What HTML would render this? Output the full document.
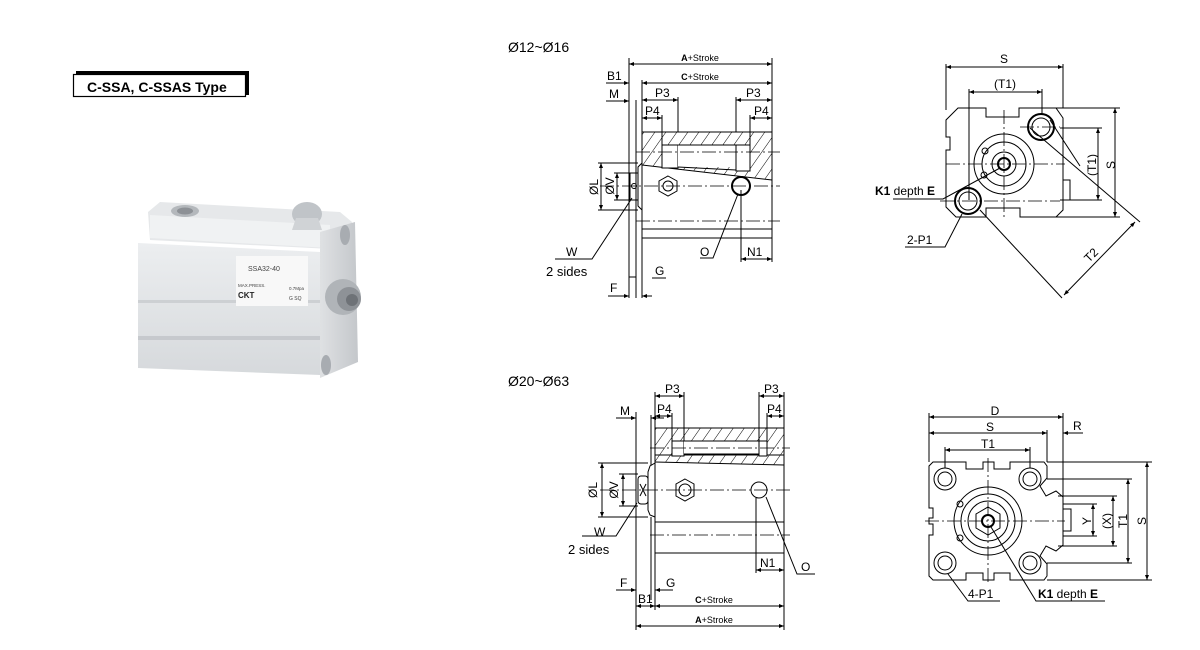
<!DOCTYPE html>
<html><head><meta charset="utf-8"><style>
html,body{margin:0;padding:0;background:#fff;}
svg{display:block;font-family:"Liberation Sans",Arial,sans-serif;}
</style></head><body>
<svg width="1200" height="650" viewBox="0 0 1200 650" xmlns="http://www.w3.org/2000/svg">
<defs>
<marker id="a" viewBox="0 0 10 10" refX="10" refY="5" markerWidth="7" markerHeight="5" orient="auto-start-reverse"><path d="M0,1 L10,5 L0,9 z" fill="#000"/></marker>
<pattern id="h" width="9" height="9" patternUnits="userSpaceOnUse" patternTransform="rotate(35)"><line x1="0" y1="0" x2="0" y2="9" stroke="#000" stroke-width="1"/></pattern>
<linearGradient id="g1" x1="0" y1="0" x2="0" y2="1"><stop offset="0" stop-color="#eceef0"/><stop offset="1" stop-color="#d6d9dc"/></linearGradient>
<linearGradient id="g2" x1="0" y1="0" x2="1" y2="0"><stop offset="0" stop-color="#dfe1e3"/><stop offset="1" stop-color="#c4c7cb"/></linearGradient>
</defs>
<rect width="1200" height="650" fill="#fff"/>

<!-- Title -->
<rect x="76" y="71" width="173" height="6" fill="#000"/>
<rect x="243" y="71" width="6" height="24" fill="#000"/>
<rect x="73.5" y="74.5" width="172" height="22" fill="#fff" stroke="#000" stroke-width="1.2"/>
<text x="87" y="92" font-size="14" font-weight="bold">C-SSA, C-SSAS Type</text>

<!-- Photo -->
<g>
<polygon points="160,202 340,212 352,222 352,250 150,240 148,212" fill="#e6e8ea"/>
<polygon points="150,215 330,225 330,248 150,238" fill="#f0f2f3"/>
<ellipse cx="185" cy="211" rx="14" ry="6" fill="#b4b8bc"/>
<ellipse cx="185" cy="211" rx="8" ry="3.5" fill="#8d9196"/>
<ellipse cx="307" cy="214" rx="15" ry="12" fill="#c0c4c8"/>
<polygon points="296,218 318,218 322,230 292,230" fill="#d0d3d6"/>
<polygon points="138,243 320,252 320,375 138,368" fill="url(#g1)"/>
<rect x="138" y="300" width="182" height="3" fill="#cdd0d3"/>
<rect x="138" y="336" width="182" height="4" fill="#c6c9cd"/>
<polygon points="320,232 355,222 358,362 320,378" fill="url(#g2)"/>
<circle cx="343" cy="297" r="18" fill="#b0b4b8"/>
<circle cx="349" cy="299" r="12" fill="#8e9297"/>
<circle cx="352" cy="300" r="6" fill="#6e7277"/>
<ellipse cx="345" cy="235" rx="5" ry="10" fill="#a8acb1"/>
<ellipse cx="326" cy="365" rx="5" ry="10" fill="#a8acb1"/>
<rect x="236" y="256" width="72" height="50" fill="#f8f8f8"/>
<text x="248" y="271" font-size="7" fill="#444">SSA32-40</text>
<text x="238" y="287" font-size="4.5" fill="#444">MAX.PRESS.</text>
<text x="289" y="290" font-size="4.5" fill="#444">0.7Mpa</text>
<text x="238" y="298" font-size="8" font-weight="bold" fill="#222">CKT</text>
<text x="289" y="300" font-size="5" fill="#444">G  SQ</text>
</g>

<!-- ===== Top-left side view ===== -->
<text x="508" y="52" font-size="14">Ø12~Ø16</text>
<g stroke="#000" stroke-width="1" fill="none">
<rect x="642" y="132" width="130" height="106"/>
<line x1="642" y1="229" x2="772" y2="229"/>
<polygon points="642,132 772,132 772,180 642,165" fill="url(#h)" stroke="none"/>
<line x1="642" y1="165" x2="772" y2="180"/>
<rect x="662" y="145" width="16" height="23" fill="#fff"/>
<rect x="678" y="145" width="58" height="22" fill="#fff" stroke="none"/>
<line x1="678" y1="145" x2="736" y2="145"/><line x1="678" y1="167" x2="736" y2="170"/>
<rect x="736" y="145" width="14" height="26" fill="#fff"/>
<line x1="662" y1="145" x2="662" y2="132"/><line x1="750" y1="145" x2="750" y2="132"/>
<g stroke-dasharray="14,3,2,3" stroke-width="0.8"><line x1="636" y1="152" x2="780" y2="152"/><line x1="600" y1="186" x2="780" y2="186"/><line x1="636" y1="221" x2="780" y2="221"/></g>
<polygon points="668,176 677,181 677,191 668,196 659,191 659,181" />
<circle cx="668" cy="186" r="5"/>
<circle cx="741" cy="186" r="9" stroke-width="2"/>
<path d="M642,163 L638,167 L638,206 L642,210"/>
<rect x="630" y="173" width="8" height="27"/>
<circle cx="634" cy="186" r="2.5"/>
<line x1="629" y1="58" x2="629" y2="298"/>
<line x1="636" y1="100" x2="636" y2="298"/>
<line x1="642" y1="80" x2="642" y2="298"/>
<line x1="772" y1="58" x2="772" y2="132"/>
<line x1="678" y1="97" x2="678" y2="132"/>
<line x1="662" y1="115" x2="662" y2="132"/>
<line x1="736" y1="97" x2="736" y2="132"/>
<line x1="750" y1="115" x2="750" y2="132"/>
<line x1="741" y1="190" x2="741" y2="262"/>
<line x1="772" y1="238" x2="772" y2="262"/>
<line x1="598" y1="163" x2="638" y2="163"/><line x1="598" y1="210" x2="638" y2="210"/>
<line x1="614" y1="173" x2="630" y2="173"/><line x1="614" y1="200" x2="630" y2="200"/>
<line x1="629" y1="64" x2="772" y2="64" marker-start="url(#a)" marker-end="url(#a)"/>
<line x1="642" y1="83" x2="772" y2="83" marker-start="url(#a)" marker-end="url(#a)"/>
<line x1="606" y1="83" x2="629" y2="83" marker-end="url(#a)"/>
<line x1="606" y1="101" x2="629" y2="101" marker-end="url(#a)"/>
<line x1="642" y1="100" x2="678" y2="100" marker-start="url(#a)" marker-end="url(#a)"/>
<line x1="642" y1="118" x2="662" y2="118" marker-start="url(#a)" marker-end="url(#a)"/>
<line x1="736" y1="100" x2="772" y2="100" marker-start="url(#a)" marker-end="url(#a)"/>
<line x1="750" y1="118" x2="772" y2="118" marker-start="url(#a)" marker-end="url(#a)"/>
<line x1="601" y1="163" x2="601" y2="210" marker-start="url(#a)" marker-end="url(#a)"/>
<line x1="617" y1="173" x2="617" y2="200" marker-start="url(#a)" marker-end="url(#a)"/>
<line x1="741" y1="259" x2="772" y2="259" marker-start="url(#a)" marker-end="url(#a)"/>
<line x1="608" y1="296" x2="629" y2="296" marker-end="url(#a)"/>
<line x1="629" y1="277" x2="636" y2="277"/>
<line x1="642" y1="296" x2="652" y2="296" marker-start="url(#a)"/>
<line x1="652" y1="278" x2="666" y2="278"/>
<polyline points="555,259 592,259 632,198"/>
<polyline points="700,258 713,258 738,194"/>
</g>
<g font-size="12">
<text x="700" y="61" text-anchor="middle" font-size="9"><tspan font-weight="bold">A</tspan>+Stroke</text>
<text x="700" y="80" text-anchor="middle" font-size="9"><tspan font-weight="bold">C</tspan>+Stroke</text>
<text x="607" y="80">B1</text>
<text x="609" y="98">M</text>
<text x="655" y="97">P3</text>
<text x="645" y="115">P4</text>
<text x="746" y="97">P3</text>
<text x="754" y="115">P4</text>
<text x="598" y="187" transform="rotate(-90 598 187)" text-anchor="middle">ØL</text>
<text x="614" y="186" transform="rotate(-90 614 186)" text-anchor="middle">ØV</text>
<text x="566" y="256">W</text>
<text x="546" y="276" font-size="13">2 sides</text>
<text x="700" y="256">O</text>
<text x="747" y="256">N1</text>
<text x="655" y="275">G</text>
<text x="610" y="292">F</text>
</g>

<!-- ===== Top-right end view ===== -->
<g stroke="#000" stroke-width="1" fill="none">
<path d="M958,108 L986,108 L986,117 L1019,117 L1019,108 L1056,108 L1063,118 L1063,210 L1056,217 L1020,217 L1020,208 L986,208 L986,217 L956,217 L946,207 L946,150 L950,150 L950,137 L946,137 L946,120 Z"/>
<rect x="1063" y="180" width="7" height="20"/>
<circle cx="1041" cy="127" r="13" stroke-width="2"/><circle cx="1041" cy="127" r="9"/>
<circle cx="968" cy="201" r="13" stroke-width="2"/><circle cx="968" cy="201" r="9"/>
<circle cx="1004" cy="164" r="30"/><circle cx="1004" cy="164" r="22"/>
<circle cx="1004" cy="164" r="12"/><circle cx="1004" cy="164" r="6" stroke-width="2"/>
<circle cx="985" cy="151" r="3"/><circle cx="984" cy="175" r="3"/>
<g stroke-dasharray="14,3,2,3" stroke-width="0.8"><line x1="946" y1="164" x2="1065" y2="164"/><line x1="1004" y1="110" x2="1004" y2="218"/><line x1="940" y1="201" x2="1060" y2="201"/><line x1="1020" y1="127" x2="1060" y2="127"/></g>
<line x1="946" y1="64" x2="946" y2="110"/><line x1="1063" y1="64" x2="1063" y2="108"/>
<line x1="969" y1="89" x2="969" y2="200"/><line x1="1042" y1="89" x2="1042" y2="114"/>
<line x1="1053" y1="108" x2="1120" y2="108"/><line x1="1056" y1="217" x2="1120" y2="217"/>
<line x1="1060" y1="128" x2="1102" y2="128"/><line x1="1060" y1="200" x2="1102" y2="200"/>
<line x1="946" y1="67" x2="1063" y2="67" marker-start="url(#a)" marker-end="url(#a)"/>
<line x1="969" y1="92" x2="1042" y2="92" marker-start="url(#a)" marker-end="url(#a)"/>
<line x1="1115" y1="108" x2="1115" y2="217" marker-start="url(#a)" marker-end="url(#a)"/>
<line x1="1098" y1="128" x2="1098" y2="200" marker-start="url(#a)" marker-end="url(#a)"/>
<line x1="1050" y1="120" x2="1080" y2="166"/>
<line x1="1030" y1="128" x2="1140" y2="222"/>
<line x1="980" y1="210" x2="1062" y2="298"/>
<line x1="1135" y1="222" x2="1064" y2="295" marker-start="url(#a)" marker-end="url(#a)"/>
<polyline points="893,199 943,199 1000,168"/>
<polyline points="905,247 945,247 962,214"/>
</g>
<g font-size="12">
<text x="1004" y="63" text-anchor="middle">S</text>
<text x="1005" y="88" text-anchor="middle">(T1)</text>
<text x="1115" y="165" transform="rotate(-90 1115 165)" text-anchor="middle">S</text>
<text x="1096" y="165" transform="rotate(-90 1096 165)" text-anchor="middle">(T1)</text>
<text x="1094" y="258" transform="rotate(-45 1094 258)" text-anchor="middle">T2</text>
<text x="875" y="195"><tspan font-weight="bold">K1</tspan> depth <tspan font-weight="bold">E</tspan></text>
<text x="907" y="244">2-P1</text>
</g>

<!-- ===== Bottom-left side view ===== -->
<text x="508" y="386" font-size="14">Ø20~Ø63</text>
<g stroke="#000" stroke-width="1" fill="none">
<rect x="655" y="428" width="129" height="125"/>
<line x1="655" y1="455" x2="784" y2="455"/>
<line x1="655" y1="522" x2="784" y2="522"/>
<polygon points="655,428 784,428 784,465 655,462" fill="url(#h)" stroke="none"/>
<rect x="672" y="441" width="12" height="15" fill="#fff"/>
<rect x="684" y="441" width="75" height="13" fill="#fff" stroke="none"/>
<line x1="684" y1="441" x2="759" y2="441"/><line x1="684" y1="454" x2="759" y2="454"/>
<rect x="759" y="441" width="8" height="15" fill="#fff"/>
<line x1="655" y1="462" x2="784" y2="465"/>
<g stroke-dasharray="14,3,2,3" stroke-width="0.8"><line x1="650" y1="448" x2="790" y2="448"/><line x1="600" y1="490" x2="790" y2="490"/><line x1="650" y1="535" x2="790" y2="535"/></g>
<polygon points="685,479 694,484 694,496 685,501 676,496 676,484"/>
<circle cx="685" cy="490" r="6"/>
<circle cx="759" cy="490" r="8"/>
<path d="M655,463 L650,466 L648,472 L648,510 L650,515 L655,517"/>
<rect x="638" y="476" width="10" height="28" rx="3"/>
<line x1="640" y1="484" x2="646" y2="496"/><line x1="646" y1="484" x2="640" y2="496"/>
<line x1="636" y1="412" x2="636" y2="630"/>
<line x1="655" y1="392" x2="655" y2="428"/><line x1="655" y1="553" x2="655" y2="610"/>
<line x1="651" y1="415" x2="651" y2="465"/><line x1="651" y1="517" x2="651" y2="600"/>
<line x1="684" y1="392" x2="684" y2="441"/><line x1="672" y1="413" x2="672" y2="441"/>
<line x1="759" y1="392" x2="759" y2="441"/><line x1="767" y1="413" x2="767" y2="441"/>
<line x1="784" y1="392" x2="784" y2="428"/><line x1="784" y1="553" x2="784" y2="630"/>
<line x1="756" y1="498" x2="756" y2="573"/>
<line x1="598" y1="463" x2="648" y2="463"/><line x1="598" y1="517" x2="648" y2="517"/>
<line x1="619" y1="474" x2="638" y2="474"/><line x1="619" y1="506" x2="638" y2="506"/>
<line x1="655" y1="396" x2="684" y2="396" marker-start="url(#a)" marker-end="url(#a)"/>
<line x1="655" y1="416" x2="672" y2="416" marker-start="url(#a)" marker-end="url(#a)"/>
<line x1="759" y1="396" x2="784" y2="396" marker-start="url(#a)" marker-end="url(#a)"/>
<line x1="767" y1="416" x2="784" y2="416" marker-start="url(#a)" marker-end="url(#a)"/>
<line x1="616" y1="418" x2="636" y2="418" marker-end="url(#a)"/>
<line x1="651" y1="418" x2="664" y2="418" marker-start="url(#a)"/>
<line x1="602" y1="463" x2="602" y2="517" marker-start="url(#a)" marker-end="url(#a)"/>
<line x1="623" y1="474" x2="623" y2="506" marker-start="url(#a)" marker-end="url(#a)"/>
<line x1="756" y1="570" x2="784" y2="570" marker-start="url(#a)" marker-end="url(#a)"/>
<line x1="616" y1="590" x2="636" y2="590" marker-end="url(#a)"/>
<line x1="655" y1="590" x2="673" y2="590" marker-start="url(#a)"/>
<line x1="636" y1="606" x2="655" y2="606" marker-start="url(#a)" marker-end="url(#a)"/>
<line x1="655" y1="606" x2="784" y2="606" marker-start="url(#a)" marker-end="url(#a)"/>
<line x1="636" y1="626" x2="784" y2="626" marker-start="url(#a)" marker-end="url(#a)"/>
<polyline points="582,536 616,536 637,503"/>
<polyline points="815,574 797,574 766,497"/>
</g>
<g font-size="12">
<text x="665" y="393">P3</text><text x="657" y="413">P4</text>
<text x="764" y="393">P3</text><text x="767" y="413">P4</text>
<text x="620" y="415">M</text>
<text x="597" y="490" transform="rotate(-90 597 490)" text-anchor="middle">ØL</text>
<text x="618" y="490" transform="rotate(-90 618 490)" text-anchor="middle">ØV</text>
<text x="594" y="536">W</text>
<text x="568" y="554" font-size="13">2 sides</text>
<text x="760" y="567">N1</text>
<text x="801" y="571">O</text>
<text x="620" y="587">F</text>
<text x="666" y="587">G</text>
<text x="638" y="603">B1</text>
<text x="714" y="603" text-anchor="middle" font-size="9"><tspan font-weight="bold">C</tspan>+Stroke</text>
<text x="714" y="623" text-anchor="middle" font-size="9"><tspan font-weight="bold">A</tspan>+Stroke</text>
</g>

<!-- ===== Bottom-right end view ===== -->
<g stroke="#000" stroke-width="1" fill="none">
<path d="M933,462 L966,462 L966,469 L983,469 L983,462 L994,462 L994,469 L1010,469 L1010,462 L1044,462 L1047,466 L1047,478 L1040,486 L1046,496 L1056,491 L1063,497 L1063,545 L1056,551 L1046,546 L1040,556 L1047,564 L1047,576 L1044,580 L1010,580 L1010,573 L994,573 L994,580 L983,580 L983,573 L966,573 L966,580 L933,580 L929,576 L929,535 L933,535 L933,524 L929,524 L929,518 L933,518 L933,508 L929,508 L929,466 Z"/>
<rect x="1063" y="509" width="8" height="22"/>
<circle cx="945" cy="479" r="11"/><circle cx="945" cy="479" r="7"/>
<circle cx="1030" cy="479" r="11"/><circle cx="1030" cy="479" r="7"/>
<circle cx="945" cy="563" r="11"/><circle cx="945" cy="563" r="7"/>
<circle cx="1030" cy="563" r="11"/><circle cx="1030" cy="563" r="7"/>
<circle cx="988" cy="521" r="34"/><circle cx="988" cy="521" r="27"/><circle cx="988" cy="521" r="20"/>
<polygon points="988,507 1000,514 1000,528 988,535 976,528 976,514"/>
<circle cx="988" cy="521" r="6" stroke-width="2"/>
<circle cx="960" cy="504" r="3"/><circle cx="960" cy="538" r="3"/>
<g stroke-dasharray="14,3,2,3" stroke-width="0.8"><line x1="925" y1="521" x2="1065" y2="521"/><line x1="988" y1="458" x2="988" y2="585"/></g>
<line x1="929" y1="413" x2="929" y2="462"/><line x1="1063" y1="413" x2="1063" y2="497"/>
<line x1="1047" y1="430" x2="1047" y2="462"/>
<line x1="945" y1="447" x2="945" y2="468"/><line x1="1030" y1="447" x2="1030" y2="468"/>
<line x1="1047" y1="462" x2="1152" y2="462"/><line x1="1047" y1="580" x2="1152" y2="580"/>
<line x1="1047" y1="479" x2="1132" y2="479"/><line x1="1047" y1="563" x2="1132" y2="563"/>
<line x1="1058" y1="496" x2="1117" y2="496"/><line x1="1058" y1="546" x2="1117" y2="546"/>
<line x1="1063" y1="504" x2="1097" y2="504"/><line x1="1063" y1="536" x2="1097" y2="536"/>
<line x1="929" y1="417" x2="1063" y2="417" marker-start="url(#a)" marker-end="url(#a)"/>
<line x1="929" y1="433" x2="1047" y2="433" marker-start="url(#a)" marker-end="url(#a)"/>
<line x1="1083" y1="433" x2="1063" y2="433" marker-end="url(#a)"/>
<line x1="945" y1="450" x2="1030" y2="450" marker-start="url(#a)" marker-end="url(#a)"/>
<line x1="1147" y1="462" x2="1147" y2="580" marker-start="url(#a)" marker-end="url(#a)"/>
<line x1="1128" y1="479" x2="1128" y2="563" marker-start="url(#a)" marker-end="url(#a)"/>
<line x1="1113" y1="496" x2="1113" y2="546" marker-start="url(#a)" marker-end="url(#a)"/>
<line x1="1093" y1="504" x2="1093" y2="536" marker-start="url(#a)" marker-end="url(#a)"/>
<polyline points="1000,601 968,601 948,574"/>
<polyline points="1105,601 1036,601 991,527"/>
</g>
<g font-size="12">
<text x="995" y="415" text-anchor="middle">D</text>
<text x="990" y="431" text-anchor="middle">S</text>
<text x="988" y="448" text-anchor="middle">T1</text>
<text x="1073" y="430">R</text>
<text x="1146" y="521" transform="rotate(-90 1146 521)" text-anchor="middle">S</text>
<text x="1127" y="521" transform="rotate(-90 1127 521)" text-anchor="middle">T1</text>
<text x="1111" y="521" transform="rotate(-90 1111 521)" text-anchor="middle">(X)</text>
<text x="1091" y="521" transform="rotate(-90 1091 521)" text-anchor="middle">Y</text>
<text x="968" y="598">4-P1</text>
<text x="1038" y="598"><tspan font-weight="bold">K1</tspan> depth <tspan font-weight="bold">E</tspan></text>
</g>
</svg>
</body></html>
